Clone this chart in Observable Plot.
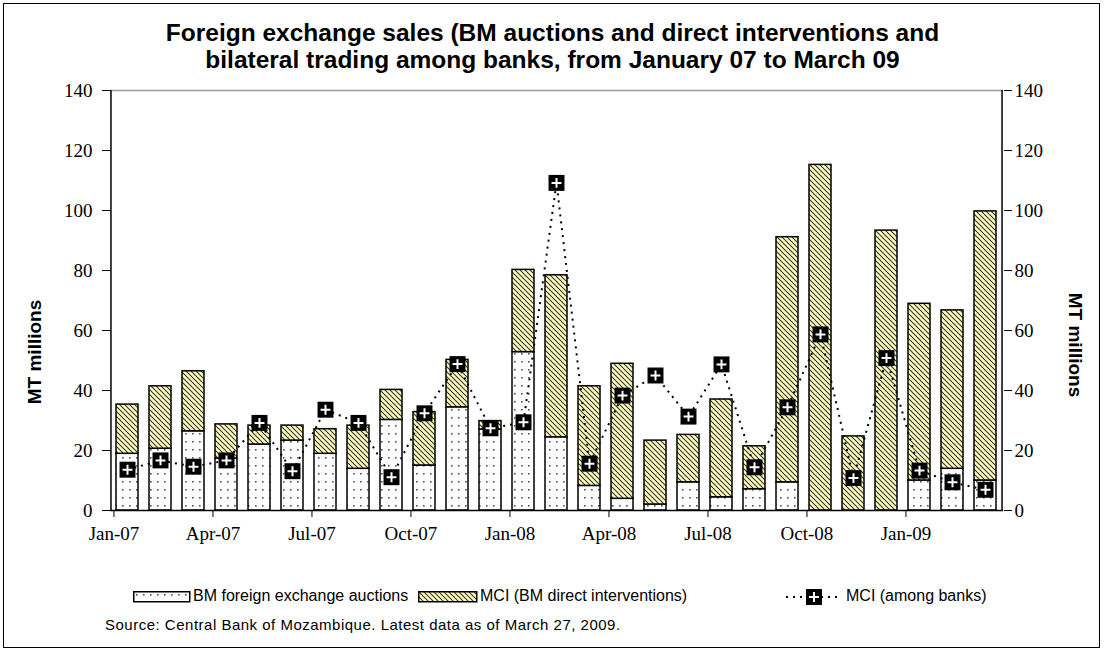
<!DOCTYPE html>
<html><head><meta charset="utf-8">
<script src="https://cdn.jsdelivr.net/npm/d3@7"></script>
<script src="https://cdn.jsdelivr.net/npm/@observablehq/plot@0.6"></script>
<style>
body{margin:0;background:#fff;}
#chart{position:relative;width:1105px;height:652px;overflow:hidden;background:#fff;}
#border{position:absolute;left:3px;top:3px;width:1097px;height:645px;border:1.5px solid #000;box-sizing:border-box;}
#title{position:absolute;left:0;width:1105px;top:19px;text-align:center;font:bold 24.5px "Liberation Sans",Arial,sans-serif;line-height:27px;}
#plot{position:absolute;left:0;top:70px;}
.ylab{position:absolute;font:bold 19px "Liberation Sans",Arial,sans-serif;white-space:nowrap;}
.leg{position:absolute;font:16px "Liberation Sans",Arial,sans-serif;white-space:nowrap;}
#source{position:absolute;left:105px;top:616px;font:15px "Liberation Sans",Arial,sans-serif;letter-spacing:0.5px;white-space:nowrap;}
</style></head>
<body>
<svg width="0" height="0" style="position:absolute">
<defs>
<pattern id="dots" patternUnits="userSpaceOnUse" width="7" height="8">
<rect width="7" height="8" fill="#fff"/><rect x="3" y="3" width="1.6" height="1.6" fill="#555"/>
</pattern>
<pattern id="hatch" patternUnits="userSpaceOnUse" width="5" height="5">
<rect width="5" height="5" fill="#ffffbe"/><path d="M0,0L5,5M-1,4L1,6M4,-1L6,1" stroke="#333" stroke-width="1.1"/>
</pattern>
</defs>
</svg>
<div id="chart">
<div id="border"></div>
<div id="title">Foreign exchange sales (BM auctions and direct interventions and<br>bilateral trading among banks, from January 07 to March 09</div>
<div id="plot"></div>
<div class="ylab" style="left:35px;top:352px;transform:translate(-50%,-50%) rotate(-90deg);">MT millions</div>
<div class="ylab" style="left:1075px;top:345px;transform:translate(-50%,-50%) rotate(90deg);">MT millions</div>
<svg class="leg" style="left:133px;top:591px" width="58" height="12"><rect x="0.75" y="0.75" width="56" height="10" fill="url(#dots)" stroke="#000" stroke-width="1.5"/></svg>
<div class="leg" style="left:193px;top:587px">BM foreign exchange auctions</div>
<svg class="leg" style="left:418px;top:591px" width="60" height="12"><rect x="0.75" y="0.75" width="58" height="10" fill="url(#hatch)" stroke="#000" stroke-width="1.5"/></svg>
<div class="leg" style="left:480px;top:587px">MCI (BM direct interventions)</div>
<svg class="leg" style="left:786px;top:587px" width="56" height="20"><line x1="0" x2="56" y1="10" y2="10" stroke="#000" stroke-width="2" stroke-dasharray="2,5"/><rect x="20" y="2" width="16" height="16" fill="#000"/><path d="M23,10H33M28,5V15" stroke="#fff" stroke-width="2"/></svg>
<div class="leg" style="left:846px;top:587px">MCI (among banks)</div>
<div id="source">Source: Central Bank of Mozambique. Latest data as of March 27, 2009.</div>
</div>
<script>
const months = ["Jan-07","Feb-07","Mar-07","Apr-07","May-07","Jun-07","Jul-07","Aug-07","Sep-07","Oct-07","Nov-07","Dec-07",
  "Jan-08","Feb-08","Mar-08","Apr-08","May-08","Jun-08","Jul-08","Aug-08","Sep-08","Oct-08","Nov-08","Dec-08",
  "Jan-09","Feb-09","Mar-09"];
const auctions = [18.9,20.6,26.4,17.3,22.0,23.3,18.9,13.9,30.2,15.0,34.4,27.0,
  52.8,24.4,8.2,3.9,2.0,9.4,4.4,7.1,9.4,0,0,0,10.0,13.9,10.0];
const directInterventions = [16.4,20.8,20.0,11.4,6.3,5.0,8.2,14.4,10.0,17.8,15.8,2.8,
  27.4,54.0,33.2,45.0,21.3,15.8,32.6,14.3,81.7,115.2,24.7,93.3,58.9,52.8,89.7];
const amongBanks = [13.6,16.7,14.6,16.7,29.2,13.1,33.6,29.2,11.1,32.4,48.8,27.4,
  29.4,109.2,15.6,38.3,45.0,31.3,48.7,14.4,34.4,58.7,10.8,50.8,13.3,9.4,6.9];
const tickMonths = ["Jan-07","Apr-07","Jul-07","Oct-07","Jan-08","Apr-08","Jul-08","Oct-08","Jan-09"];
const yTicks = [0,20,40,60,80,100,120,140];

const W = 1105, H = 500, mL = 110, mR = 102, mT = 20, mB = 60;
const step = (W - mL - mR) / months.length;
const data = months.map((m, i) => ({month: m, auctions: auctions[i], direct: directInterventions[i], banks: amongBanks[i]}));

const svg = Plot.plot({
  width: W, height: H, marginLeft: mL, marginRight: mR, marginTop: mT, marginBottom: mB,
  style: {fontFamily: '"Liberation Serif", "Times New Roman", serif', fontSize: "19px", color: "#000", background: "transparent", overflow: "visible"},
  x: {type: "band", domain: months, paddingInner: 0.33, paddingOuter: 0.165, axis: null},
  y: {domain: [0, 140], axis: null},
  marks: [
    Plot.barY(data, {x: "month", y1: 0, y2: "auctions", fill: "url(#dots)", stroke: "#000", strokeWidth: 1.5}),
    Plot.barY(data, {x: "month", y1: "auctions", y2: d => d.auctions + d.direct, fill: "url(#hatch)", stroke: "#000", strokeWidth: 1.5}),
    Plot.ruleY([140], {stroke: "#999", strokeWidth: 1.5}),
    Plot.ruleY([0], {stroke: "#000", strokeWidth: 1.5}),
    Plot.ruleX([months[0]], {dx: -step / 2, stroke: "#000", strokeWidth: 1.5}),
    Plot.ruleX([months[months.length - 1]], {dx: step / 2, stroke: "#000", strokeWidth: 1.5}),
    Plot.axisX(tickMonths, {dx: -step / 2 + 3, tickSize: 7, tickPadding: 9, label: null, stroke: "#000"}),
    Plot.axisY(yTicks, {anchor: "left", tickSize: 8, tickPadding: 10, label: null}),
    Plot.axisY(yTicks, {anchor: "right", tickSize: 8, tickPadding: 3, label: null}),
    Plot.line(data, {x: "month", y: "banks", stroke: "#000", strokeWidth: 2, strokeDasharray: "2,5", strokeLinecap: "butt"}),
    Plot.dot(data, {x: "month", y: "banks", symbol: "square", r: 9, fill: "#000", stroke: "none"}),
    Plot.dot(data, {x: "month", y: "banks", symbol: "plus", r: 3.3, stroke: "#fff", strokeWidth: 2})
  ]
});
document.getElementById("plot").appendChild(svg);
</script>
</body></html>
